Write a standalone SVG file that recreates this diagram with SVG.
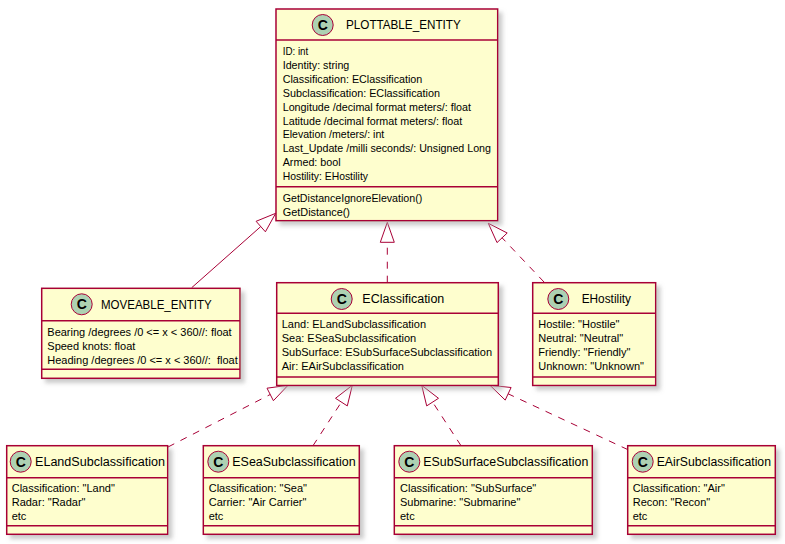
<svg xmlns="http://www.w3.org/2000/svg" width="785" height="544" viewBox="0 0 785 544">
<defs>
<filter id="sh" x="-10%" y="-10%" width="130%" height="130%">
<feGaussianBlur in="SourceAlpha" stdDeviation="2" result="b"/>
<feOffset in="b" dx="4" dy="4" result="o"/>
<feColorMatrix in="o" type="matrix" values="0 0 0 0 0.4  0 0 0 0 0.4  0 0 0 0 0.4  0 0 0 0.6 0" result="s"/>
<feMerge><feMergeNode in="s"/><feMergeNode in="SourceGraphic"/></feMerge>
</filter>
</defs>
<style>
.box{fill:#FEFECE;stroke:#A80036;stroke-width:1.5}
.div{stroke:#A80036;stroke-width:1.5}
.circ{fill:#ADD1B2;stroke:#A80036;stroke-width:1}
.c{font-family:"Liberation Sans",Arial,sans-serif;font-size:14px;font-weight:bold;text-anchor:middle;fill:#000}
.name{font-family:"Liberation Sans",Arial,sans-serif;font-size:12px;fill:#000}
.attr{font-family:"Liberation Sans",Arial,sans-serif;font-size:11px;fill:#000;white-space:pre}
.ln{fill:none;stroke:#A80036;stroke-width:1}
.dash{stroke-dasharray:7,7}
.tri{fill:none;stroke:#A80036;stroke-width:1}
</style>

<g id="connectors">
<line class="ln" x1="191.7" y1="287.7" x2="260.7" y2="226.6"/>
<polygon class="tri" points="275.7,213.3 265.4,231.8 256.1,221.3"/>
<line class="ln dash" x1="387.3" y1="282.7" x2="387.3" y2="242.3"/>
<polygon class="tri" points="387.3,222.3 380.3,242.3 394.3,242.3"/>
<line class="ln dash" x1="544" y1="282" x2="502.1" y2="237.8"/>
<polygon class="tri" points="488.3,223.3 507.2,233 497,242.6"/>
<line class="ln dash" x1="168" y1="447" x2="270.2" y2="394.5"/>
<polygon class="tri" points="288,385.3 273.4,400.7 267,388.2"/>
<line class="ln dash" x1="313" y1="445.7" x2="341.4" y2="402.1"/>
<polygon class="tri" points="352.3,385.3 347.3,405.9 335.5,398.3"/>
<line class="ln dash" x1="461" y1="445.7" x2="432.6" y2="402.1"/>
<polygon class="tri" points="421.7,385.3 438.5,398.3 426.7,405.9"/>
<line class="ln dash" x1="628" y1="449.7" x2="508.1" y2="393.8"/>
<polygon class="tri" points="490,385.3 511.1,387.5 505.2,400.1"/>
</g>

<g id="PLOTTABLE_ENTITY">
<rect class="box" x="276" y="9" width="221.7" height="211.7" filter="url(#sh)"/>
<line class="div" x1="276" y1="40" x2="497.7" y2="40"/>
<line class="div" x1="276" y1="186.7" x2="497.7" y2="186.7"/>
<circle class="circ" cx="322.7" cy="25" r="10.5"/>
<text class="c" x="322.7" y="30">C</text>
<text class="name" x="346" y="29.3" textLength="114.7" lengthAdjust="spacingAndGlyphs">PLOTTABLE_ENTITY</text>
<text class="attr" x="282.7" y="55" textLength="25.6" lengthAdjust="spacingAndGlyphs">ID: int</text>
<text class="attr" x="282.7" y="68.9" textLength="66.6" lengthAdjust="spacingAndGlyphs">Identity: string</text>
<text class="attr" x="282.7" y="82.8" textLength="139.6" lengthAdjust="spacingAndGlyphs">Classification: EClassification</text>
<text class="attr" x="282.7" y="96.7" textLength="157.3" lengthAdjust="spacingAndGlyphs">Subclassification: EClassification</text>
<text class="attr" x="282.7" y="110.6" textLength="188.3" lengthAdjust="spacingAndGlyphs">Longitude /decimal format meters/: float</text>
<text class="attr" x="282.7" y="124.5" textLength="179.6" lengthAdjust="spacingAndGlyphs">Latitude /decimal format meters/: float</text>
<text class="attr" x="282.7" y="138.4" textLength="101.6" lengthAdjust="spacingAndGlyphs">Elevation /meters/: int</text>
<text class="attr" x="282.7" y="152.3" textLength="208.3" lengthAdjust="spacingAndGlyphs">Last_Update /milli seconds/: Unsigned Long</text>
<text class="attr" x="282.7" y="166.2" textLength="58" lengthAdjust="spacingAndGlyphs">Armed: bool</text>
<text class="attr" x="282.7" y="180.1" textLength="85.3" lengthAdjust="spacingAndGlyphs">Hostility: EHostility</text>
<text class="attr" x="282.7" y="202.3" textLength="139.6" lengthAdjust="spacingAndGlyphs">GetDistanceIgnoreElevation()</text>
<text class="attr" x="282.7" y="216.2" textLength="67.3" lengthAdjust="spacingAndGlyphs">GetDistance()</text>
</g>

<g id="MOVEABLE_ENTITY">
<rect class="box" x="41.7" y="288.3" width="198.3" height="90" filter="url(#sh)"/>
<line class="div" x1="41.7" y1="320.7" x2="240" y2="320.7"/>
<line class="div" x1="41.7" y1="369.3" x2="240" y2="369.3"/>
<circle class="circ" cx="81.7" cy="304.3" r="10.5"/>
<text class="c" x="81.7" y="309.3">C</text>
<text class="name" x="101" y="308.5" textLength="110.7" lengthAdjust="spacingAndGlyphs">MOVEABLE_ENTITY</text>
<text class="attr" x="47.3" y="336.3">Bearing /degrees /0 &lt;= x &lt; 360//: float</text>
<text class="attr" x="47.3" y="350.2">Speed knots: float</text>
<text class="attr" x="47.3" y="364.1">Heading /degrees /0 &lt;= x &lt; 360//:  float</text>
</g>

<g id="EClassification">
<rect class="box" x="276.7" y="282.7" width="221.6" height="102.8" filter="url(#sh)"/>
<line class="div" x1="276.7" y1="313.3" x2="498.3" y2="313.3"/>
<line class="div" x1="276.7" y1="377" x2="498.3" y2="377"/>
<circle class="circ" cx="341.7" cy="299" r="10.5"/>
<text class="c" x="341.7" y="304">C</text>
<text class="name" x="362.3" y="303.2" textLength="82" lengthAdjust="spacingAndGlyphs">EClassification</text>
<text class="attr" x="281.7" y="328.3">Land: ELandSubclassification</text>
<text class="attr" x="281.7" y="342.2">Sea: ESeaSubclassification</text>
<text class="attr" x="281.7" y="356.1">SubSurface: ESubSurfaceSubclassification</text>
<text class="attr" x="281.7" y="370">Air: EAirSubclassification</text>
</g>

<g id="EHostility">
<rect class="box" x="532.7" y="282.7" width="123" height="102.8" filter="url(#sh)"/>
<line class="div" x1="532.7" y1="313.3" x2="655.7" y2="313.3"/>
<line class="div" x1="532.7" y1="377" x2="655.7" y2="377"/>
<circle class="circ" cx="558.3" cy="299" r="10.5"/>
<text class="c" x="558.3" y="304">C</text>
<text class="name" x="581.7" y="303.2" textLength="49.3" lengthAdjust="spacingAndGlyphs">EHostility</text>
<text class="attr" x="538.3" y="327.8">Hostile: "Hostile"</text>
<text class="attr" x="538.3" y="341.7">Neutral: "Neutral"</text>
<text class="attr" x="538.3" y="355.6">Friendly: "Friendly"</text>
<text class="attr" x="538.3" y="369.5">Unknown: "Unknown"</text>
</g>

<g id="ELandSubclassification">
<rect class="box" x="6.7" y="445.7" width="161" height="88.6" filter="url(#sh)"/>
<line class="div" x1="6.7" y1="477.7" x2="167.7" y2="477.7"/>
<line class="div" x1="6.7" y1="525.7" x2="167.7" y2="525.7"/>
<circle class="circ" cx="20.7" cy="461.7" r="10.5"/>
<text class="c" x="20.7" y="466.7">C</text>
<text class="name" x="35" y="465.9" textLength="130" lengthAdjust="spacingAndGlyphs">ELandSubclassification</text>
<text class="attr" x="11.7" y="492.3">Classification: "Land"</text>
<text class="attr" x="11.7" y="506.2">Radar: "Radar"</text>
<text class="attr" x="11.7" y="520.1">etc</text>
</g>

<g id="ESeaSubclassification">
<rect class="box" x="203.3" y="445.7" width="156" height="88.6" filter="url(#sh)"/>
<line class="div" x1="203.3" y1="477.7" x2="359.3" y2="477.7"/>
<line class="div" x1="203.3" y1="525.7" x2="359.3" y2="525.7"/>
<circle class="circ" cx="218.3" cy="461.7" r="10.5"/>
<text class="c" x="218.3" y="466.7">C</text>
<text class="name" x="232.3" y="465.9" textLength="123.3" lengthAdjust="spacingAndGlyphs">ESeaSubclassification</text>
<text class="attr" x="208.7" y="492.3">Classification: "Sea"</text>
<text class="attr" x="208.7" y="506.2">Carrier: "Air Carrier"</text>
<text class="attr" x="208.7" y="520.1">etc</text>
</g>

<g id="ESubSurfaceSubclassification">
<rect class="box" x="394.3" y="445.7" width="198" height="88.6" filter="url(#sh)"/>
<line class="div" x1="394.3" y1="477.7" x2="592.3" y2="477.7"/>
<line class="div" x1="394.3" y1="525.7" x2="592.3" y2="525.7"/>
<circle class="circ" cx="409.3" cy="461.7" r="10.5"/>
<text class="c" x="409.3" y="466.7">C</text>
<text class="name" x="423.3" y="465.9" textLength="165" lengthAdjust="spacingAndGlyphs">ESubSurfaceSubclassification</text>
<text class="attr" x="400" y="492.3">Classification: "SubSurface"</text>
<text class="attr" x="400" y="506.2">Submarine: "Submarine"</text>
<text class="attr" x="400" y="520.1">etc</text>
</g>

<g id="EAirSubclassification">
<rect class="box" x="627.7" y="445.7" width="147.6" height="88.6" filter="url(#sh)"/>
<line class="div" x1="627.7" y1="477.7" x2="775.3" y2="477.7"/>
<line class="div" x1="627.7" y1="525.7" x2="775.3" y2="525.7"/>
<circle class="circ" cx="642.7" cy="461.7" r="10.5"/>
<text class="c" x="642.7" y="466.7">C</text>
<text class="name" x="656.7" y="465.9" textLength="114.3" lengthAdjust="spacingAndGlyphs">EAirSubclassification</text>
<text class="attr" x="632.7" y="492.3">Classification: "Air"</text>
<text class="attr" x="632.7" y="506.2">Recon: "Recon"</text>
<text class="attr" x="632.7" y="520.1">etc</text>
</g>
</svg>
